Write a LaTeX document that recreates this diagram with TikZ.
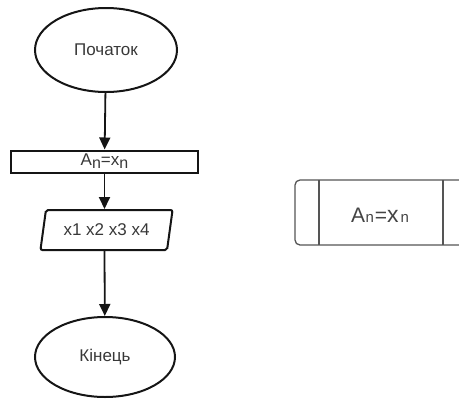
\documentclass[tikz,border=0pt]{standalone}
\usepackage{fontspec}
\setmainfont{Liberation Sans}
\usetikzlibrary{shapes.geometric,arrows.meta}
\definecolor{ink}{HTML}{151515}
\definecolor{soft}{HTML}{555555}
\newcommand{\lowsub}[1]{\raisebox{-0.35ex}{\fontsize{16pt}{18pt}\selectfont #1}}
\begin{document}
\begin{tikzpicture}[x=1pt,y=-1pt,
  every node/.style={font=\fontsize{17pt}{20pt}\selectfont, text=ink!85},
  terminal/.style={ellipse, draw=ink, line width=2pt, inner sep=0pt},
  procbox/.style={rectangle, draw=ink, line width=2pt, inner sep=0pt},
  iobox/.style={trapezium, trapezium stretches=true, trapezium left angle=72,
    trapezium right angle=108, draw=ink, line width=2pt, rounded corners=2pt, inner sep=0pt},
  flow/.style={draw=ink, line width=1.8pt, -{Triangle[length=12pt,width=11pt]}},
  framed/.style={draw=soft, line width=1.3pt}]
\useasboundingbox (0,0) rectangle (459,400);

% main flow chart
\node[terminal, minimum width=142pt, minimum height=84pt] (start) at (106,50) {Початок};
\node[procbox, minimum width=187pt, minimum height=22pt] (assign) at (104.5,161.5)
  {A\lowsub{n}=x\lowsub{n}};
\node[iobox, minimum width=133pt, minimum height=40pt] (input) at (106.5,230) {x1 x2 x3 x4};
\node[terminal, minimum width=140pt, minimum height=80pt] (finish) at (105,357) {Кінець};

\draw[flow] (start) -- (assign);
\draw[flow] (assign) -- (input.north -| assign.south);
\draw[flow] (input.south -| assign.south) -- (finish);

% predefined process block
\node[font=\fontsize{21pt}{24pt}\selectfont, text=ink!80] (proc) at (380,215)
  {A\hspace{0.5pt}{\fontsize{15pt}{18pt}\selectfont n}\hspace{1pt}=\fontsize{23pt}{26pt}\selectfont x\hspace{2pt}{\fontsize{15pt}{18pt}\selectfont n}};
\draw[framed] (462,180) -- (300,180) arc[start angle=90, end angle=180, radius=5pt]
  -- (295,240) arc[start angle=180, end angle=270, radius=5pt] -- (462,245);
\draw[framed] (319,180) -- (319,245);
\draw[framed] (443,180) -- (443,245);
\end{tikzpicture}
\end{document}
